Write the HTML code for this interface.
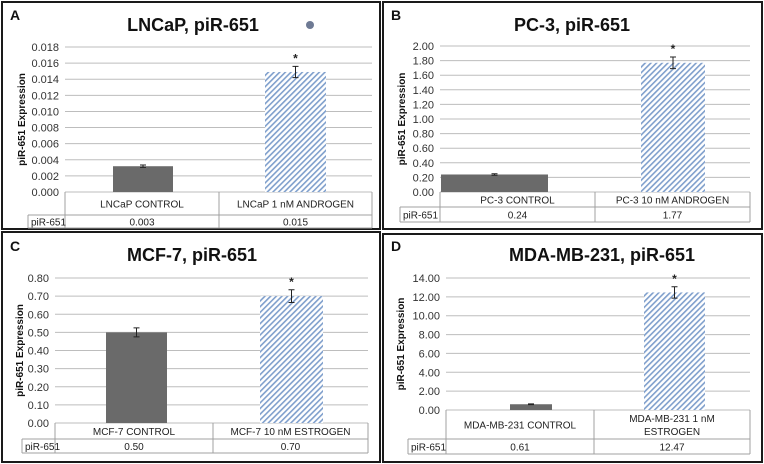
<!DOCTYPE html>
<html><head><meta charset="utf-8"><style>
body{margin:0;background:#fff;}
svg{display:block;font-family:"Liberation Sans",sans-serif;}
</style></head><body>
<svg id="fig" width="764" height="464" viewBox="0 0 764 464">
<defs>
<pattern id="hatch" patternUnits="userSpaceOnUse" width="4" height="4" patternTransform="rotate(45)">
<rect width="4" height="4" fill="#ffffff"/>
<rect x="0" y="0" width="1.6" height="4" fill="#7f9fcc"/>
</pattern>
</defs>
</svg>
<script>
const categoriesA = ["LNCaP CONTROL", "LNCaP 1 nM ANDROGEN"];
const valuesA = [0.0032, 0.0149];
const errorsA = [0.00015, 0.0007];
const printedA = ["0.003", "0.015"];
const ticksA = ["0.000","0.002","0.004","0.006","0.008","0.010","0.012","0.014","0.016","0.018"];

const categoriesB = ["PC-3 CONTROL", "PC-3 10 nM ANDROGEN"];
const valuesB = [0.24, 1.77];
const errorsB = [0.01, 0.08];
const printedB = ["0.24", "1.77"];
const ticksB = ["0.00","0.20","0.40","0.60","0.80","1.00","1.20","1.40","1.60","1.80","2.00"];

const categoriesC = ["MCF-7 CONTROL", "MCF-7 10 nM ESTROGEN"];
const valuesC = [0.50, 0.70];
const errorsC = [0.025, 0.035];
const printedC = ["0.50", "0.70"];
const ticksC = ["0.00","0.10","0.20","0.30","0.40","0.50","0.60","0.70","0.80"];

const categoriesD = ["MDA-MB-231 CONTROL", "MDA-MB-231 1 nM|ESTROGEN"];
const valuesD = [0.61, 12.47];
const errorsD = [0.04, 0.6];
const printedD = ["0.61", "12.47"];
const ticksD = ["0.00","2.00","4.00","6.00","8.00","10.00","12.00","14.00"];

const NS = "http://www.w3.org/2000/svg";
const svg = document.getElementById("fig");
function mk(tag, attrs, parent, text){
  const e = document.createElementNS(NS, tag);
  for (const k in attrs) e.setAttribute(k, attrs[k]);
  if (text !== undefined) e.textContent = text;
  (parent || svg).appendChild(e);
  return e;
}

const panels = [
 {id:"a", letter:"A", title:"LNCaP, piR-651", cats:categoriesA, vals:valuesA, errs:errorsA, printed:printedA, ticks:ticksA,
  box:[2,2,378,227], left:65, right:372, top:47, bottom:192, row1:215, row2:228, labelL:28, split:219, bars:[[113,173],[265,326]], titleX:193, titleY:31, axX:25, letterX:10, letterY:20, dot:true},
 {id:"b", letter:"B", title:"PC-3, piR-651", cats:categoriesB, vals:valuesB, errs:errorsB, printed:printedB, ticks:ticksB,
  box:[383,2,379,227], left:440, right:750, top:46, bottom:192, row1:207, row2:222, labelL:400, split:595, bars:[[441,548],[641,705]], titleX:572, titleY:31, axX:405, letterX:391, letterY:20},
 {id:"c", letter:"C", title:"MCF-7, piR-651", cats:categoriesC, vals:valuesC, errs:errorsC, printed:printedC, ticks:ticksC,
  box:[2,232,378,230], left:55, right:368, top:278, bottom:423, row1:439, row2:453, labelL:22, split:213, bars:[[106,167],[260,323]], titleX:192, titleY:261, axX:23, letterX:10, letterY:251},
 {id:"d", letter:"D", title:"MDA-MB-231, piR-651", cats:categoriesD, vals:valuesD, errs:errorsD, printed:printedD, ticks:ticksD,
  box:[383,234,379,228], left:446, right:750, top:278, bottom:410, row1:439, row2:454, labelL:408, split:594, bars:[[510,552],[644,705]], titleX:602, titleY:261, axX:404, letterX:391, letterY:251}
];

panels.forEach(p => {
  const g = mk("g", {});
  
  
  const bx = mk("rect", {x:p.box[0], y:p.box[1], width:p.box[2], height:p.box[3], fill:"#fff", stroke:"#1a1a1a", "stroke-width":2}, g);
  
  
  const lt = mk("text", {x:p.letterX, y:p.letterY, "font-size":14, "font-weight":"bold", fill:"#111"}, g, p.letter);
  
  
  const tt = mk("text", {x:p.titleX, y:p.titleY, "font-size":18, "font-weight":"bold", "text-anchor":"middle", fill:"#111"}, g, p.title);
  
  
  if (p.dot) {
    const d = mk("circle", {cx:310, cy:25, r:4, fill:"#6e7a94"}, g);
    
    
  }
  const tmin = parseFloat(p.ticks[0]), tmax = parseFloat(p.ticks[p.ticks.length-1]);
  const y = v => p.bottom - (v - tmin) / (tmax - tmin) * (p.bottom - p.top);
  p.ticks.forEach(t => {
    const yy = y(parseFloat(t));
    const gl = mk("line", {x1:p.left, x2:p.right, y1:yy, y2:yy, stroke:"#bdbdbd", "stroke-width":1}, g);
    
    
    const tl = mk("text", {x:p.left - 6, y:yy + 4, "font-size":11, "text-anchor":"end", fill:"#333"}, g, t);
    
    
  });
  const cy = (p.top + p.bottom) / 2;
  const at = mk("text", {x:p.axX, y:cy, "font-size":10, "font-weight":"bold", "text-anchor":"middle", transform:"rotate(-90 " + p.axX + " " + cy + ")", fill:"#111"}, g, "piR-651 Expression");
  
  
  p.vals.forEach((v, i) => {
    const [x0, x1] = p.bars[i];
    const b = mk("rect", {x:x0, y:y(v), width:x1 - x0, height:p.bottom - y(v), fill: i === 0 ? "#6a6a6a" : "url(#hatch)"}, g);
    
    
    const xc = (x0 + x1) / 2, e = p.errs[i];
    const eb = mk("path", {d:"M"+xc+" "+y(v+e)+"V"+y(v-e)+"M"+(xc-3)+" "+y(v+e)+"H"+(xc+3)+"M"+(xc-3)+" "+y(v-e)+"H"+(xc+3), stroke:"#222", "stroke-width":1, fill:"none"}, g);
    
    
    if (i === 1) {
      const s = mk("text", {x:xc, y:y(v+e) - 4, "font-size":12, "font-weight":"bold", "text-anchor":"middle", fill:"#222"}, g, "*");
      
      
    }
  });
  // data table
  const tbl = mk("g", {stroke:"#a0a0a0", "stroke-width":1, fill:"none"}, g);
  
  
  mk("path", {d:"M"+p.left+" "+p.bottom+"V"+p.row2+"M"+p.split+" "+p.bottom+"V"+p.row2+"M"+p.right+" "+p.bottom+"V"+p.row2+
    "M"+p.labelL+" "+p.row1+"H"+p.right+"M"+p.labelL+" "+p.row2+"H"+p.right+"M"+p.labelL+" "+p.row1+"V"+p.row2}, tbl);
  const cols = [[p.left, p.split], [p.split, p.right]];
  p.cats.forEach((c, i) => {
    const xc = (cols[i][0] + cols[i][1]) / 2;
    const lines = c.split("|");
    const mid = (p.bottom + p.row1) / 2;
    lines.forEach((ln, k) => {
      const ty = mid + 4 + (k - (lines.length - 1) / 2) * 13;
      const ct = mk("text", {x:xc, y:ty, "font-size":10, "text-anchor":"middle", fill:"#222"}, g, ln);
      
      
    });
    const vt = mk("text", {x:xc, y:(p.row1 + p.row2) / 2 + 4, "font-size":10, "text-anchor":"middle", fill:"#222"}, g, p.printed[i]);
    
    
  });
  const rl = mk("text", {x:p.labelL + 3, y:(p.row1 + p.row2) / 2 + 4, "font-size":10, fill:"#222"}, g, "piR-651");
  
  
});
</script>
</body></html>
